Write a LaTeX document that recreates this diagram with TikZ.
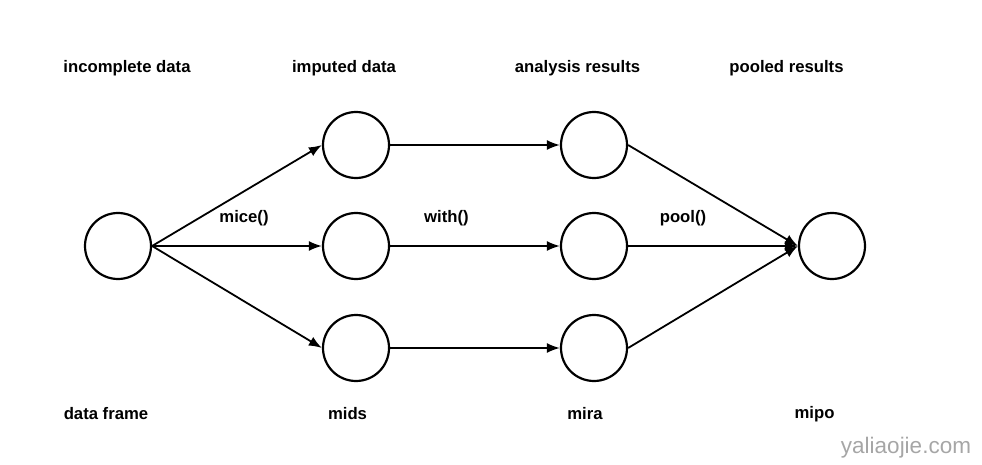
\documentclass[tikz,border=0pt]{standalone}
\usepackage{fontspec}
\setmainfont{Liberation Sans}
\usetikzlibrary{arrows.meta}
\begin{document}
\begin{tikzpicture}[x=1pt,y=-1pt,
  state/.style={circle,draw,line width=2.2pt,minimum size=66pt,inner sep=0pt},
  lab/.style={font=\fontsize{16.7}{18}\selectfont\bfseries,inner sep=0pt},
  conn/.style={line width=1.8pt,-{Latex[length=13pt,width=10pt]}}]
\useasboundingbox (0,0) rectangle (982,465);
\node[state] (df) at (118,246) {};
\node[state] (m1) at (356,145) {};
\node[state] (m2) at (356,246) {};
\node[state] (m3) at (356,348) {};
\node[state] (r1) at (594,145) {};
\node[state] (r2) at (594,246) {};
\node[state] (r3) at (594,348) {};
\node[state] (po) at (832,246) {};
\draw[conn] (df.east) -- (m1.west);
\draw[conn] (df.east) -- (m2.west);
\draw[conn] (df.east) -- (m3.west);
\draw[conn] (m1.east) -- (r1.west);
\draw[conn] (m2.east) -- (r2.west);
\draw[conn] (m3.east) -- (r3.west);
\draw[conn] (r1.east) -- (po.west);
\draw[conn] (r2.east) -- (po.west);
\draw[conn] (r3.east) -- (po.west);
\node[lab] (t1) at (127,68) {incomplete data};
\node[lab] (t2) at (344,68) {imputed data};
\node[lab] (t3) at (577.5,68) {analysis results};
\node[lab] (t4) at (786.5,68) {pooled results};
\node[lab] (b1) at (106,414) {data frame};
\node[lab] (b2) at (347.5,414) {mids};
\node[lab] (b3) at (585,414) {mira};
\node[lab] (b4) at (814.5,414) {mipo};
\node[lab] (e1) at (244,218) {mice()};
\node[lab] (e2) at (446.5,218) {with()};
\node[lab] (e3) at (683,218) {pool()};
\node[font=\fontsize{22.5}{24}\selectfont,text=black!35,inner sep=0pt] (wm) at (906,448) {yaliaojie.com};
\end{tikzpicture}
\end{document}
